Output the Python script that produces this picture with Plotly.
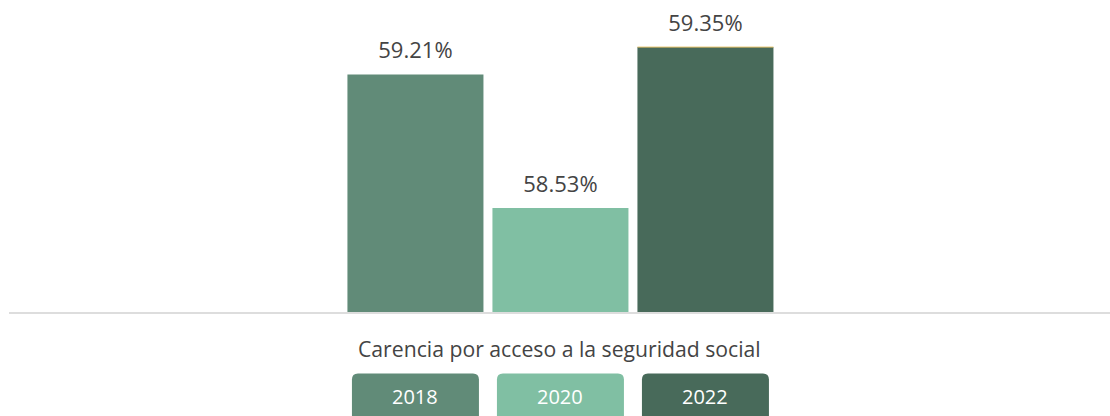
import plotly.graph_objects as go

# ---- data ----
category = "Carencia por acceso a la seguridad social"
years = ["2018", "2020", "2022"]
values = [59.21, 58.53, 59.35]
colors = ["#618B78", "#80BFA3", "#486A5A"]
labels = [f"{v:.2f}%" for v in values]

FONT = "Open Sans"
BARGAP = 0.062

fig = go.Figure()
fig.add_trace(go.Bar(
    x=years, y=values, marker=dict(color=colors, line=dict(width=0)),
    hoverinfo="skip", showlegend=False,
))
fig.add_trace(go.Scatter(
    x=years, y=values, mode="markers+text", text=labels,
    textposition="top center",
    textfont=dict(family=FONT, size=22, color="#444444"),
    marker=dict(size=16, opacity=0),
    hoverinfo="skip", showlegend=False, cliponaxis=False,
))

# thin highlight on top of last bar, derived from data
half = (1 - BARGAP) / 2
i_last = len(years) - 1
fig.add_shape(type="line", xref="x", yref="y",
              x0=i_last - half, x1=i_last + half,
              y0=values[-1], y1=values[-1],
              line=dict(color="#E8C36A", width=1))

# custom legend boxes under each bar
W, R = 127, 6
top, bot = -61.5, -110
for i, (yr, c) in enumerate(zip(years, colors)):
    x0, x1 = -W / 2, W / 2
    path = (f"M {x0+R},{top} L {x1-R},{top} Q {x1},{top} {x1},{top-R} "
            f"L {x1},{bot} L {x0},{bot} L {x0},{top-R} Q {x0},{top} {x0+R},{top} Z")
    fig.add_shape(type="path", xref="x", yref="paper",
                  xsizemode="pixel", ysizemode="pixel",
                  xanchor=i, yanchor=0, path=path,
                  fillcolor=c, line=dict(width=0), layer="above")
    fig.add_annotation(x=i, xref="x", y=0, yref="paper", text=yr,
                       showarrow=False, yanchor="middle", yshift=-84,
                       font=dict(family=FONT, size=20, color="#FFFFFF"))

fig.add_annotation(x=0.5, xref="paper", y=0, yref="paper", text=category,
                   showarrow=False, yanchor="middle", yshift=-36,
                   font=dict(family=FONT, size=21.2, color="#444444"))

fig.update_layout(
    width=1110, height=416,
    margin=dict(l=9, r=0, t=0, b=103.5),
    paper_bgcolor="white", plot_bgcolor="white",
    bargap=BARGAP,
    font=dict(family=FONT),
    hovermode=False,
    xaxis=dict(type="category", range=[-2.803, 4.79], showticklabels=False,
               showgrid=False, zeroline=False, showline=True,
               linecolor="#DDDDDD", linewidth=2, ticks=""),
    yaxis=dict(range=[58, 59.59], visible=False, showgrid=False, zeroline=False),
)

fig.write_html(
    "out.html",
    config={"displayModeBar": False},
    post_script="document.body.style.margin='0';document.body.style.overflow='hidden';",
)
